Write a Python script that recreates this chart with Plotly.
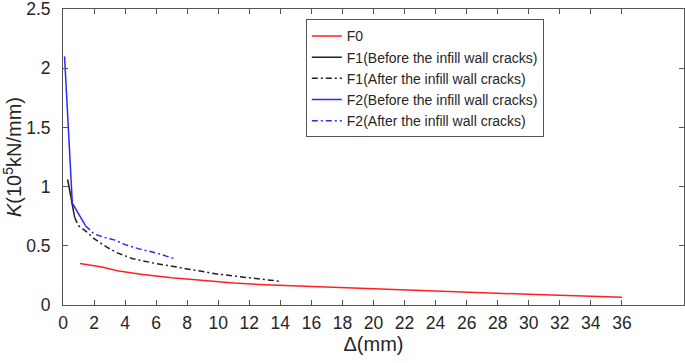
import plotly.graph_objects as go

# Data
f0_x = [1.1, 2.5, 3.5, 5, 7, 9, 11, 13, 15, 18, 22, 26, 30, 34, 36]
f0_y = [0.35, 0.32, 0.29, 0.26, 0.23, 0.205, 0.185, 0.17, 0.16, 0.145, 0.125, 0.107, 0.09, 0.073, 0.065]

f1b_x = [0.3, 0.75]
f1b_y = [1.06, 0.74]

f1a_x = [0.75, 1.0, 1.5, 2.0, 2.8, 3.5, 4.5, 6, 8, 10, 12, 14]
f1a_y = [0.74, 0.67, 0.62, 0.56, 0.49, 0.44, 0.39, 0.35, 0.305, 0.26, 0.23, 0.20]

f2b_x = [0.1, 0.6, 1.45]
f2b_y = [2.1, 0.86, 0.67]

f2a_x = [1.45, 2.0, 2.7, 3.3, 4.0, 5.0, 6.0, 7.2]
f2a_y = [0.67, 0.6, 0.57, 0.55, 0.51, 0.47, 0.44, 0.39]

x_ticks = list(range(0, 37, 2))
y_ticks = [0, 0.5, 1, 1.5, 2, 2.5]
y_tick_text = ["0", "0.5", "1", "1.5", "2", "2.5"]

names = ["F0", "F1(Before the infill wall cracks)", "F1(After the infill wall cracks)",
         "F2(Before the infill wall cracks)", "F2(After the infill wall cracks)"]

FONT = "Liberation Sans, Arial"
DASHDOT = "6px,3px,2px,3px"

fig = go.Figure()
fig.add_trace(go.Scatter(x=f0_x, y=f0_y, mode="lines", name=names[0],
                         line=dict(color="#ff2020", width=1.5)))
fig.add_trace(go.Scatter(x=f1b_x, y=f1b_y, mode="lines", name=names[1],
                         line=dict(color="#202020", width=1.5)))
fig.add_trace(go.Scatter(x=f1a_x, y=f1a_y, mode="lines", name=names[2],
                         line=dict(color="#202020", width=1.5, dash=DASHDOT)))
fig.add_trace(go.Scatter(x=f2b_x, y=f2b_y, mode="lines", name=names[3],
                         line=dict(color="#2a2aff", width=1.5)))
fig.add_trace(go.Scatter(x=f2a_x, y=f2a_y, mode="lines", name=names[4],
                         line=dict(color="#2a2aff", width=1.5, dash=DASHDOT)))

axis_common = dict(showline=True, mirror="ticks", linecolor="#555555", linewidth=1,
                   ticks="inside", ticklen=5, tickcolor="#555555", showgrid=False,
                   zeroline=False, ticklabeloverflow="allow", automargin=False,
                   tickfont=dict(family=FONT, size=17.5, color="#262626"))

fig.update_xaxes(range=[0, 40], tickvals=x_ticks, ticktext=[str(v) for v in x_ticks],
                 ticklabelstandoff=2,
                 title=dict(text="Δ(mm)", font=dict(family=FONT, size=20, color="#262626"),
                            standoff=2),
                 **axis_common)
fig.update_yaxes(range=[0, 2.5], tickvals=y_ticks, ticktext=y_tick_text,
                 ticklabelstandoff=8,
                 title=dict(text="<i>K</i>(10<sup>5</sup>kN/mm)",
                            font=dict(family=FONT, size=20, color="#262626"),
                            standoff=6),
                 **axis_common)

fig.update_layout(
    width=685, height=363,
    margin=dict(l=63, r=1, t=9, b=58),
    plot_bgcolor="white", paper_bgcolor="white",
    legend=dict(x=0.391, y=0.965, xanchor="left", yanchor="top",
                bgcolor="white", bordercolor="#555555", borderwidth=1,
                font=dict(family=FONT, size=14, color="#262626"),
                tracegroupgap=0, itemwidth=30),
    showlegend=True,
)

fig.write_html("out.html", config={"displayModeBar": False},
               post_script="document.body.style.margin='0';")
